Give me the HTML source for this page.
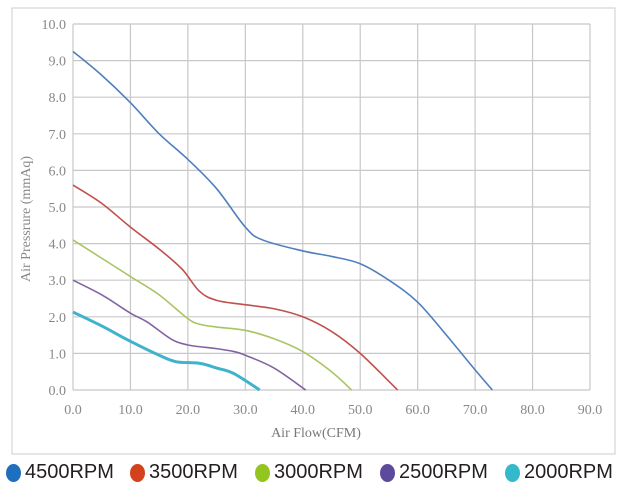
<!DOCTYPE html>
<html><head><meta charset="utf-8"><style>
body{margin:0;background:#fff;width:623px;height:500px;overflow:hidden;font-family:"Liberation Sans",sans-serif}
.leg{position:absolute;top:461px;display:flex;align-items:center;font-size:20px;color:#231f20}
.dot{width:15px;height:18px;border-radius:50%;margin-right:4px}
</style></head><body>
<svg width="623" height="500" style="position:absolute;left:0;top:0" id="svg">
<rect x="12" y="8" width="603" height="446" fill="none" stroke="#ccc" stroke-width="1"/>
<g id="grid"></g><g id="series"></g>
<text x="316" y="437" font-family="Liberation Serif,serif" font-size="14" fill="#777" text-anchor="middle">Air Flow(CFM)</text>
<text transform="translate(30,219) rotate(-90)" font-family="Liberation Serif,serif" font-size="14" fill="#888" text-anchor="middle">Air Pressrure (mmAq)</text>
</svg>
<div class="leg" style="left:6px"><div class="dot" style="background:#1f6fbf"></div>4500RPM</div>
<div class="leg" style="left:130px"><div class="dot" style="background:#d3421c"></div>3500RPM</div>
<div class="leg" style="left:255px"><div class="dot" style="background:#93c520"></div>3000RPM</div>
<div class="leg" style="left:380px"><div class="dot" style="background:#5d4a9c"></div>2500RPM</div>
<div class="leg" style="left:505px"><div class="dot" style="background:#33b9c9"></div>2000RPM</div>
<script>
const xTicks=[0,10,20,30,40,50,60,70,80,90];
const yTicks=[0,1,2,3,4,5,6,7,8,9,10];
const s4500x=[0,5,10,15,20,25,30,33,40,45,50,55,60,65,70,73];
const s4500y=[9.25,8.6,7.85,7.0,6.3,5.5,4.45,4.1,3.8,3.65,3.45,3.0,2.4,1.5,0.55,0];
const s3500x=[0,5,10,15,19,22,25,30,35,40,45,50,56.5];
const s3500y=[5.6,5.1,4.45,3.85,3.3,2.7,2.45,2.33,2.22,2.0,1.6,1.0,0];
const s3000x=[0,5,10,15,20,22,25,30,35,40,45,48.5];
const s3000y=[4.1,3.6,3.1,2.6,1.95,1.8,1.72,1.63,1.4,1.05,0.5,0];
const s2500x=[0,5,10,13,17,20,25,28,30,35,40.5];
const s2500y=[3.0,2.6,2.1,1.85,1.4,1.23,1.13,1.05,0.95,0.6,0];
const s2000x=[0,5,10,15,18,22,25,28,32.5];
const s2000y=[2.13,1.75,1.33,0.95,0.77,0.73,0.6,0.45,0];
const X0=73,X1=590,Y0=390,Y1=24;
const sx=v=>X0+(v/90)*(X1-X0), sy=v=>Y0-(v/10)*(Y0-Y1);
const NS="http://www.w3.org/2000/svg";
const grid=document.getElementById('grid'), ser=document.getElementById('series');
function mk(t,a,p){const e=document.createElementNS(NS,t);for(const k in a)e.setAttribute(k,a[k]);p.appendChild(e);return e;}
xTicks.forEach(v=>{const l=mk('line',{x1:sx(v),x2:sx(v),y1:Y1,y2:Y0,stroke:'#c8c8c8','stroke-width':1.2},grid);


const t=mk('text',{x:sx(v),y:Y0+24,'text-anchor':'middle','font-size':14,fill:'#888','font-family':'Liberation Serif,serif'},grid);t.textContent=v.toFixed(1);

});
yTicks.forEach(v=>{const l=mk('line',{x1:X0,x2:X1,y1:sy(v),y2:sy(v),stroke:'#c8c8c8','stroke-width':1.2},grid);


const t=mk('text',{x:X0-7,y:sy(v)+5,'text-anchor':'end','font-size':14,fill:'#888','font-family':'Liberation Serif,serif'},grid);t.textContent=v.toFixed(1);

});
function path(xs,ys){const p=xs.map((x,i)=>[sx(x),sy(ys[i])]);let d='M'+p[0][0]+','+p[0][1];
for(let i=0;i<p.length-1;i++){const a=p[i-1]||p[i],b=p[i],c=p[i+1],e=p[i+2]||c;
d+=' C'+(b[0]+(c[0]-a[0])/6)+','+(b[1]+(c[1]-a[1])/6)+' '+(c[0]-(e[0]-b[0])/6)+','+(c[1]-(e[1]-b[1])/6)+' '+c[0]+','+c[1];}return d;}
[[s4500x,s4500y,'#4f7fbd',1.6,'series-4500rpm'],[s3500x,s3500y,'#c0504d',1.6,'series-3500rpm'],[s3000x,s3000y,'#a9c563',1.6,'series-3000rpm'],[s2500x,s2500y,'#8064a2',1.6,'series-2500rpm'],[s2000x,s2000y,'#3fb3cc',3,'series-2000rpm']].forEach(s=>{
const e=mk('path',{d:path(s[0],s[1]),fill:'none',stroke:s[2],'stroke-width':s[3]},ser);

});
</script>
</body></html>
